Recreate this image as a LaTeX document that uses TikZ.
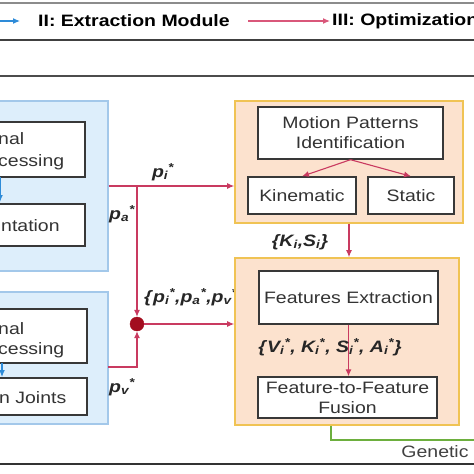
\documentclass[tikz,border=0pt]{standalone}
\usepackage{fontspec}
\setmainfont{Liberation Sans}[FakeStretch=1.18]
\usepackage{tikz}
\usetikzlibrary{arrows.meta,positioning,calc}
\definecolor{ExtBlue}{HTML}{DDEEFB}
\definecolor{ExtBlueLine}{HTML}{A3C8EA}
\definecolor{OptPeach}{HTML}{FCE2CE}
\definecolor{OptGold}{HTML}{F0C354}
\definecolor{FlowRed}{HTML}{C93A60}
\definecolor{FlowPink}{HTML}{D9577A}
\definecolor{DotRed}{HTML}{A30D1F}
\definecolor{GenGreen}{HTML}{6DAF3E}
\definecolor{LegBlue}{HTML}{2E8BD8}
\newcommand{\fvar}[2]{\textbf{\textit{#1\textsubscript{#2}\textsuperscript{*}}}}

\begin{document}
\begin{tikzpicture}[x=1pt,y=-1pt,
  font=\fontsize{16.5}{20}\selectfont,
  extblock/.style={draw=ExtBlueLine,fill=ExtBlue,line width=1.2pt},
  optblock/.style={draw=OptGold,fill=OptPeach,line width=1.6pt},
  stage/.style={draw=black!78,fill=white,line width=1.4pt,align=center,
                inner sep=2pt,text=black!80},
  arr/.style={-{Latex[length=7pt,width=6pt]},FlowRed,line width=1.1pt},
  lbl/.style={inner sep=1pt,text=black!85},
  rule/.style={line width=2pt}
]
\useasboundingbox (0,0) rectangle (474,474);
\draw[rule,black!45] (0,3) -- (474,3);
\draw[rule,line width=1.5pt,black!75] (0,40) -- (474,40);
\draw[rule,black!70] (0,76) -- (474,76);
\draw[rule,black!80] (0,464) -- (474,464);

% legend
\coordinate (legA) at (-10,21);
\coordinate (legB) at (20,21);
\draw[-{Latex[length=7pt,width=6pt]},LegBlue,line width=1.1pt] (legA) -- (legB);
\node[anchor=west,inner sep=0pt,font=\fontsize{16.5}{20}\selectfont\bfseries] (legext) at (38,21) {II: Extraction Module};
\coordinate (legC) at (248,21);
\coordinate (legD) at (330,21);
\draw[-{Latex[length=7pt,width=6pt]},FlowPink,line width=1.1pt] (legC) -- (legD);
\node[anchor=west,inner sep=0pt,font=\fontsize{16.5}{20}\selectfont\bfseries] (legopt) at (332,21) {III: Optimization};

% extraction side
\node[extblock,minimum width=128pt,minimum height=170pt] (ext1) at (44,186) {};
\node[stage,minimum width=105pt,minimum height=55pt] (sig1) at (32.5,149.5) {};
\node[stage,minimum width=105pt,minimum height=42pt] (seg) at (32.5,225) {};
\node[lbl,anchor=base west,inner sep=0pt,text=black!80] (sig1a) at (-2,144) {nal};
\node[lbl,anchor=base west,inner sep=0pt,text=black!80] (sig1b) at (-2,166) {cessing};
\node[lbl,anchor=base west,inner sep=0pt,text=black!80] (sega) at (1,231) {ntation};
\draw[-{Latex[length=7pt,width=6pt]},LegBlue,line width=1.1pt] (0,177) -- (0,202);

\node[extblock,minimum width=128pt,minimum height=132pt] (ext2) at (44,358) {};
\node[stage,minimum width=107pt,minimum height=54pt] (sig2) at (33.5,336) {};
\node[stage,minimum width=107pt,minimum height=37pt] (jnt) at (33.5,396.5) {};
\node[lbl,anchor=base west,inner sep=0pt,text=black!80] (sig2a) at (-2,334) {nal};
\node[lbl,anchor=base west,inner sep=0pt,text=black!80] (sig2b) at (-2,354) {cessing};
\node[lbl,anchor=base west,inner sep=0pt,text=black!80] (jnta) at (-1,403) {n Joints};
\draw[-{Latex[length=7pt,width=6pt]},LegBlue,line width=1.1pt] (2,363) -- (2,377);

\node[lbl,anchor=west] (pall) at (143,297) {\textbf{\textit{\{}}\fvar{p}{i}\textbf{\textit{,}}\fvar{p}{a}\textbf{\textit{,}}\fvar{p}{v}\textbf{\textit{\}}}};

% optimization side
\node[optblock,minimum width=228pt,minimum height=122pt] (opt1) at (349,162) {};
\node[stage,minimum width=185pt,minimum height=52pt] (motion) at (350.5,133) {Motion Patterns\\Identification};
\node[stage,minimum width=108pt,minimum height=37pt] (kin) at (302,195.5) {Kinematic};
\node[stage,minimum width=86pt,minimum height=37pt] (stat) at (411,195.5) {Static};

\node[optblock,minimum width=224pt,minimum height=167pt] (opt2) at (347,341.5) {};
\node[stage,minimum width=179pt,minimum height=53pt] (fext) at (348.5,297.5) {Features Extraction};
\node[stage,minimum width=179pt,minimum height=41pt] (fuse) at (347.5,397.5) {Feature-to-Feature\\Fusion};

% connectors
\coordinate (branch) at (137,186);
\coordinate (pv) at (108,367);
\node[circle,fill=DotRed,draw=DotRed,minimum width=14pt,minimum height=11pt,inner sep=0pt] (dot) at (137,324) {};
\draw[FlowRed,line width=1.1pt] (ext1.east |- branch) -- (branch);
\draw[arr] (branch) -- (branch -| opt1.west);
\draw[arr] (branch) -- (dot.north);
\draw[arr] (pv) -| (dot.south);
\draw[arr] (dot.east) -- (dot -| opt2.west);
\draw[arr] (motion.south) -- (kin.north);
\draw[arr] (motion.south) -- (stat.north);
\draw[arr] (opt1.south) -- (opt1.south |- opt2.north);
\draw[arr] (fext.south) -- (fext.south |- fuse.north);
\coordinate (gen) at (331,440);
\draw[GenGreen,line width=1.2pt] (gen |- opt2.south) -- (gen) -- (480,440);

% labels
\node[lbl] (pi) at (163,172) {\fvar{p}{i}};
\node[lbl] (pa) at (122,214) {\fvar{p}{a}};
\node[lbl] (pvl) at (122,387) {\fvar{p}{v}};
\node[lbl] (ks) at (300,242) {\textbf{\textit{\{K\textsubscript{i},S\textsubscript{i}\}}}};
\node[lbl] (vksa) at (330,347) {\textbf{\textit{\{}}\fvar{V}{i}\textbf{\textit{, }}\fvar{K}{i}\textbf{\textit{, }}\fvar{S}{i}\textbf{\textit{, }}\fvar{A}{i}\textbf{\textit{\}}}};
\node[lbl,text=black!75] (genetic) at (435,452) {Genetic};
\end{tikzpicture}
\end{document}
